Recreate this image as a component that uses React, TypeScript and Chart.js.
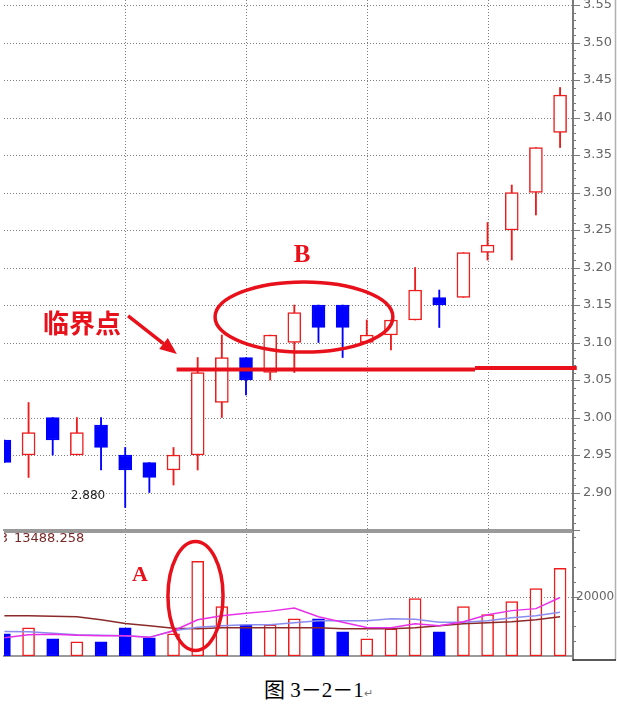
import React, { useEffect, useRef } from "react";
import { Chart, registerables } from "chart.js";

Chart.register(...registerables);

// ---------- data ----------
const days = [0, 1, 2, 3, 4, 5, 6, 7, 8, 9, 10, 11, 12, 13, 14, 15, 16, 17, 18, 19, 20, 21, 22, 23];
const opens = [2.97, 2.95, 3.0, 2.95, 2.99, 2.95, 2.94, 2.93, 2.95, 3.02, 3.08, 3.06, 3.1, 3.15, 3.15, 3.1, 3.11, 3.13, 3.16, 3.16, 3.22, 3.25, 3.3, 3.38];
const highs = [2.97, 3.02, 3.0, 3.0, 3.0, 2.96, 2.94, 2.96, 3.08, 3.11, 3.08, 3.11, 3.15, 3.15, 3.15, 3.13, 3.13, 3.2, 3.17, 3.22, 3.26, 3.31, 3.36, 3.44];
const lows = [2.94, 2.92, 2.95, 2.95, 2.93, 2.88, 2.9, 2.91, 2.93, 3.0, 3.03, 3.05, 3.06, 3.1, 3.08, 3.1, 3.09, 3.13, 3.12, 3.16, 3.21, 3.21, 3.27, 3.36];
const closes = [2.94, 2.98, 2.97, 2.98, 2.96, 2.93, 2.92, 2.95, 3.06, 3.08, 3.05, 3.11, 3.14, 3.12, 3.12, 3.11, 3.13, 3.17, 3.15, 3.22, 3.23, 3.3, 3.36, 3.43];
const volumes = [7460, 9490, 5760, 4750, 4750, 9490, 6100, 7460, 31870, 16610, 10510, 10510, 12540, 12540, 8140, 5760, 9150, 19320, 8140, 16610, 13900, 18310, 22710, 29490];
const volMA5 = [6100, 7120, 7290, 6950, 6780, 6780, 6270, 8480, 12200, 13560, 14340, 15090, 16100, 13220, 11360, 9590, 9490, 10850, 10170, 11530, 13900, 15260, 15930, 19660];
const volMA10 = [8240, 8140, 7630, 7120, 6950, 6780, 6270, 8480, 9660, 10170, 10510, 10510, 11190, 11870, 11870, 11870, 12540, 12370, 11360, 11360, 11870, 12880, 13560, 14750];
const volMA20 = [13560, 13560, 13390, 13220, 12200, 10950, 10170, 9320, 9150, 9490, 9490, 9490, 9490, 9490, 9150, 9150, 9150, 9490, 10170, 10850, 11190, 11530, 12200, 13220];
const priceTicks = [2.9, 2.95, 3.0, 3.05, 3.1, 3.15, 3.2, 3.25, 3.3, 3.35, 3.4, 3.45, 3.5, 3.55];
const priceTickLabels = ["2.90", "2.95", "3.00", "3.05", "3.10", "3.15", "3.20", "3.25", "3.30", "3.35", "3.40", "3.45", "3.50", "3.55"];
const volTicks = [20000];
const volTickLabels = ["20000"];
const gridDays = [5, 10, 15, 20];
const volumeLabel = "13488.258";
const lowLabel = "2.880";
const criticalLevelA = 3.064;
const criticalLevelB = 3.066;

// ---------- styling ----------
const RED = "#ee1c1c";
const ANN = "#e8101a";
const BLUE = "#0000ff";
const GRID = "#7e7e7e";
const AXIS = "#7a7a7a";
const XMIN = -0.0166;
const XMAX = 23.535;
const PMAX = 3.5567;
const PMIN = 2.85;
const VMAX = 42034;

const isUp = (i: number) => closes[i] >= opens[i];

function xScaleOpts() {
  return {
    type: "linear" as const,
    min: XMIN,
    max: XMAX,
    offset: false,
    afterBuildTicks: (s: any) => {
      s.ticks = gridDays.map((v) => ({ value: v }));
    },
    afterFit: (s: any) => {
      s.height = 0;
    },
    ticks: { display: false },
    grid: { drawOnChartArea: false, drawTicks: false, offset: false },
    border: { display: true, color: "#9a9a9a", width: 2 },
  };
}

function drawDottedGrid(chart: any, yValues: number[]) {
  const { ctx, chartArea } = chart;
  const x = chart.scales.x;
  const y = chart.scales.y;
  ctx.save();
  ctx.strokeStyle = GRID;
  ctx.lineWidth = 1;
  ctx.setLineDash([1, 2]);
  for (const d of gridDays) {
    const px = Math.round(x.getPixelForValue(d)) + 0.5;
    ctx.beginPath();
    ctx.moveTo(px, chartArea.top);
    ctx.lineTo(px, chartArea.bottom);
    ctx.stroke();
  }
  for (const v of yValues) {
    const py = Math.round(y.getPixelForValue(v)) + 0.5;
    ctx.beginPath();
    ctx.moveTo(chartArea.left, py);
    ctx.lineTo(chartArea.right, py);
    ctx.stroke();
  }
  ctx.restore();
}

const pricePlugin = {
  id: "priceDecor",
  beforeDatasetsDraw(chart: any) {
    drawDottedGrid(chart, priceTicks);
  },
  afterDraw(chart: any) {
    const { ctx, chartArea } = chart;
    const x = chart.scales.x;
    const y = chart.scales.y;
    ctx.save();
    // axis tick marks
    ctx.strokeStyle = AXIS;
    ctx.lineWidth = 1;
    for (let k = 0; k <= 71; k++) {
      const v = PMIN + k * 0.01;
      const py = Math.round(y.getPixelForValue(v)) + 0.5;
      const major = k % 5 === 0;
      ctx.beginPath();
      ctx.moveTo(chartArea.right, py);
      ctx.lineTo(chartArea.right + (major ? 7 : 3), py);
      ctx.stroke();
    }
    // right frame
    ctx.strokeStyle = "#b0b0b0";
    ctx.lineWidth = 1.5;
    ctx.beginPath();
    ctx.moveTo(615.5, 0);
    ctx.lineTo(615.5, chart.height);
    ctx.stroke();

    // low label
    ctx.fillStyle = "#222";
    ctx.font = '12px "DejaVu Sans"';
    ctx.textAlign = "right";
    ctx.textBaseline = "middle";
    ctx.fillText(lowLabel, x.getPixelForValue(5) - 20, y.getPixelForValue(2.88) - 11.5);

    // critical line
    ctx.strokeStyle = ANN;
    ctx.lineWidth = 4;
    ctx.lineCap = "butt";
    ctx.beginPath();
    ctx.moveTo(x.getPixelForValue(7.13), y.getPixelForValue(criticalLevelA));
    ctx.lineTo(x.getPixelForValue(19.48), y.getPixelForValue(criticalLevelA));
    ctx.stroke();
    ctx.beginPath();
    ctx.moveTo(x.getPixelForValue(19.48), y.getPixelForValue(criticalLevelB));
    ctx.lineTo(x.getPixelForValue(23.69), y.getPixelForValue(criticalLevelB));
    ctx.stroke();

    // ellipse B
    const cx = x.getPixelForValue(12.4);
    const cy = y.getPixelForValue(3.134);
    const rx = x.getPixelForValue(12.4 + 3.68) - cx;
    const ry = y.getPixelForValue(3.134 - 0.0467) - cy;
    ctx.lineWidth = 3.5;
    ctx.beginPath();
    ctx.ellipse(cx, cy, rx, ry, 0, 0, Math.PI * 2);
    ctx.stroke();

    // B label
    ctx.fillStyle = ANN;
    ctx.textAlign = "center";
    ctx.font = 'bold 25px "Liberation Serif"';
    ctx.fillText("B", x.getPixelForValue(12.32), y.getPixelForValue(3.2153));

    // critical text
    ctx.font = 'bold 26px "Noto Sans CJK SC"';
    ctx.fillText("临界点", x.getPixelForValue(3.21), y.getPixelForValue(3.126));

    // arrow
    const ax0 = x.getPixelForValue(5.12);
    const ay0 = y.getPixelForValue(3.1354);
    const ax1 = x.getPixelForValue(7.14);
    const ay1 = y.getPixelForValue(3.0847);
    const ang = Math.atan2(ay1 - ay0, ax1 - ax0);
    const headL = 17;
    const headW = 7;
    const bx = ax1 - headL * Math.cos(ang);
    const by = ay1 - headL * Math.sin(ang);
    ctx.lineWidth = 3.5;
    ctx.beginPath();
    ctx.moveTo(ax0, ay0);
    ctx.lineTo(bx, by);
    ctx.stroke();
    ctx.beginPath();
    ctx.moveTo(ax1, ay1);
    ctx.lineTo(bx + headW * Math.sin(ang), by - headW * Math.cos(ang));
    ctx.lineTo(bx - headW * Math.sin(ang), by + headW * Math.cos(ang));
    ctx.closePath();
    ctx.fill();
    ctx.restore();
  },
};

const volPlugin = {
  id: "volDecor",
  beforeDatasetsDraw(chart: any) {
    drawDottedGrid(chart, volTicks);
  },
  afterDraw(chart: any) {
    const { ctx, chartArea } = chart;
    const x = chart.scales.x;
    const y = chart.scales.y;
    ctx.save();
    // top separator
    ctx.strokeStyle = "#9a9a9a";
    ctx.lineWidth = 2;
    ctx.beginPath();
    ctx.moveTo(chartArea.left, 1);
    ctx.lineTo(chartArea.right, 1);
    ctx.stroke();
    // axis ticks
    ctx.strokeStyle = AXIS;
    ctx.lineWidth = 1;
    for (let k = 1; k <= 8; k++) {
      const v = k * 5000;
      const py = Math.round(y.getPixelForValue(v)) + 0.5;
      const major = k === 4;
      ctx.beginPath();
      ctx.moveTo(chartArea.right, py);
      ctx.lineTo(chartArea.right + (major ? 6 : 3), py);
      ctx.stroke();
    }
    // y axis extension and frame
    ctx.lineWidth = 2;
    ctx.beginPath();
    ctx.moveTo(chartArea.right, chartArea.bottom);
    ctx.lineTo(chartArea.right, chart.height - 1);
    ctx.stroke();
    ctx.strokeStyle = "#b0b0b0";
    ctx.lineWidth = 1.5;
    ctx.beginPath();
    ctx.moveTo(615.5, 0);
    ctx.lineTo(615.5, chart.height - 2);
    ctx.stroke();
    ctx.strokeStyle = "#222";
    ctx.lineWidth = 1.5;
    ctx.beginPath();
    ctx.moveTo(chartArea.right, chart.height - 2);
    ctx.lineTo(616, chart.height - 2);
    ctx.stroke();

    // volume label
    ctx.save();
    ctx.beginPath();
    ctx.rect(chartArea.left, 0, 200, 20);
    ctx.clip();
    ctx.fillStyle = "#7a2626";
    ctx.font = '13px "DejaVu Sans"';
    ctx.textBaseline = "middle";
    ctx.textAlign = "right";
    ctx.fillText("VOL3", chartArea.left + 4, 8);
    ctx.textAlign = "left";
    ctx.fillText(volumeLabel, chartArea.left + 10, 8);
    ctx.restore();

    // A label
    ctx.fillStyle = ANN;
    ctx.textAlign = "center";
    ctx.textBaseline = "middle";
    ctx.font = 'bold 22px "Liberation Serif"';
    ctx.fillText("A", x.getPixelForValue(5.61), y.getPixelForValue(27120));

    // ellipse A
    const cx = x.getPixelForValue(7.91);
    const cy = y.getPixelForValue(20170);
    const rx = x.getPixelForValue(7.91 + 1.14) - cx;
    const ry = y.getPixelForValue(20170 - 18306) - cy;
    ctx.strokeStyle = ANN;
    ctx.lineWidth = 3.5;
    ctx.beginPath();
    ctx.ellipse(cx, cy, rx, ry, 0, 0, Math.PI * 2);
    ctx.stroke();
    ctx.restore();
  },
};

export default function App() {
  const priceRef = useRef<HTMLCanvasElement>(null);
  const volRef = useRef<HTMLCanvasElement>(null);

  useEffect(() => {
    const pc = new Chart(priceRef.current as HTMLCanvasElement, {
      type: "bar",
      data: {
        datasets: [
          {
            label: "body",
            data: days.map((d, i) => ({ x: d, y: [opens[i], closes[i]] })) as any,
            backgroundColor: days.map((_, i) => (isUp(i) ? "#ffffff" : BLUE)),
            borderColor: days.map((_, i) => (isUp(i) ? RED : BLUE)),
            borderWidth: 1.5,
            borderSkipped: false,
            barThickness: 13,
            grouped: false,
            order: 0,
            clip: 0,
          } as any,
          {
            label: "wick",
            data: days.map((d, i) => ({ x: d, y: [lows[i], highs[i]] })) as any,
            backgroundColor: days.map((_, i) => (isUp(i) ? RED : BLUE)),
            borderWidth: 0,
            barThickness: 1.2,
            grouped: false,
            order: 1,
            clip: 0,
          } as any,
        ],
      },
      options: {
        animation: false,
        responsive: false,
        maintainAspectRatio: false,
        events: [],
        layout: { padding: { left: 4, top: 0, right: 0, bottom: 1 } },
        plugins: { legend: { display: false }, tooltip: { enabled: false } },
        scales: {
          x: xScaleOpts() as any,
          y: {
            position: "right",
            min: PMIN,
            max: PMAX,
            afterBuildTicks: (s: any) => {
              s.ticks = priceTicks.map((v) => ({ value: v }));
            },
            afterFit: (s: any) => {
              s.width = 45;
              s.paddingTop = 0;
              s.paddingBottom = 0;
            },
            ticks: {
              padding: 10,
              color: "#666",
              font: { family: "DejaVu Sans", size: 13 },
              callback: (_v: any, i: number) => priceTickLabels[i],
            },
            grid: { drawOnChartArea: false, drawTicks: false },
            border: { display: true, color: AXIS, width: 2 },
          } as any,
        },
      },
      plugins: [pricePlugin],
    });

    const vc = new Chart(volRef.current as HTMLCanvasElement, {
      type: "bar",
      data: {
        datasets: [
          {
            type: "line",
            label: "MA5",
            data: days.map((d, i) => ({ x: d, y: volMA5[i] })),
            borderColor: "#e830e8",
            borderWidth: 1.5,
            pointRadius: 0,
            tension: 0,
            order: 0,
          } as any,
          {
            type: "line",
            label: "MA10",
            data: days.map((d, i) => ({ x: d, y: volMA10[i] })),
            borderColor: "#8a8cf0",
            borderWidth: 1.5,
            pointRadius: 0,
            tension: 0,
            order: 0,
          } as any,
          {
            type: "line",
            label: "MA20",
            data: days.map((d, i) => ({ x: d, y: volMA20[i] })),
            borderColor: "#8b2a2a",
            borderWidth: 1.5,
            pointRadius: 0,
            tension: 0,
            order: 0,
          } as any,
          {
            type: "bar",
            label: "VOL",
            data: days.map((d, i) => ({ x: d, y: volumes[i] })) as any,
            backgroundColor: days.map((_, i) => (isUp(i) ? "#ffffff" : BLUE)),
            borderColor: days.map((_, i) => (isUp(i) ? RED : BLUE)),
            borderWidth: 1.5,
            borderSkipped: false,
            barThickness: 12,
            grouped: false,
            order: 1,
            clip: 0,
          } as any,
        ],
      },
      options: {
        animation: false,
        responsive: false,
        maintainAspectRatio: false,
        events: [],
        layout: { padding: { left: 4, top: 0, right: 0, bottom: 6 } },
        plugins: { legend: { display: false }, tooltip: { enabled: false } },
        scales: {
          x: xScaleOpts() as any,
          y: {
            position: "right",
            min: 0,
            max: VMAX,
            afterBuildTicks: (s: any) => {
              s.ticks = volTicks.map((v) => ({ value: v }));
            },
            afterFit: (s: any) => {
              s.width = 45;
              s.paddingTop = 0;
              s.paddingBottom = 0;
            },
            ticks: {
              padding: 3,
              color: "#666",
              font: { family: "DejaVu Sans", size: 12 },
              callback: (_v: any, i: number) => volTickLabels[i],
            },
            grid: { drawOnChartArea: false, drawTicks: false },
            border: { display: true, color: AXIS, width: 2 },
          } as any,
        },
      },
      plugins: [volPlugin],
    });

    return () => {
      pc.destroy();
      vc.destroy();
    };
  }, []);

  return (
    <div
      style={{
        position: "absolute",
        left: 0,
        top: 0,
        width: 618,
        height: 705,
        background: "#ffffff",
        overflow: "hidden",
      }}
    >
      <canvas
        ref={priceRef}
        width={618}
        height={531}
        style={{ position: "absolute", left: 0, top: 0, display: "block" }}
      />
      <canvas
        ref={volRef}
        width={618}
        height={131}
        style={{ position: "absolute", left: 0, top: 531, display: "block" }}
      />
      <div
        style={{
          position: "absolute",
          left: 264,
          top: 677,
          fontFamily: '"Liberation Serif", "Noto Sans CJK SC", serif',
          fontSize: 21,
          lineHeight: "26px",
          color: "#000",
          whiteSpace: "nowrap",
        }}
      >
        图 3－2－1
        <span style={{ fontSize: 11, color: "#777" }}>↵</span>
      </div>
    </div>
  );
}
